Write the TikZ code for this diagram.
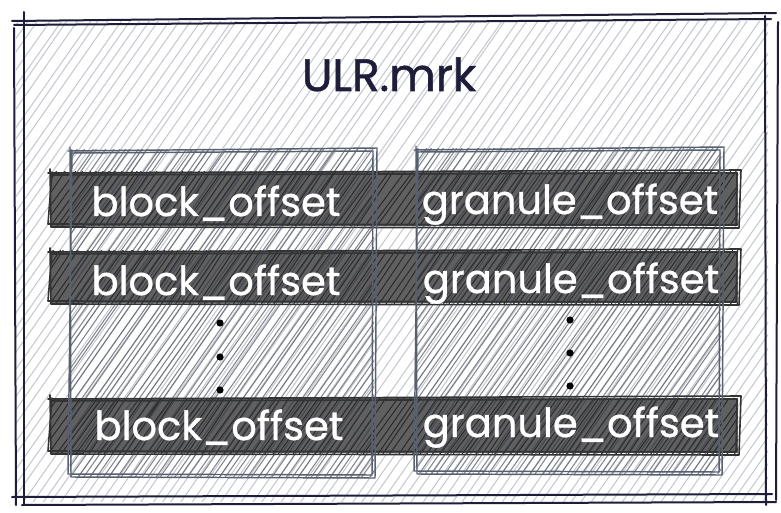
\documentclass[tikz,border=0pt]{standalone}
\usepackage{fontspec}
\setmainfont{Poppins}
\usetikzlibrary{positioning}

\definecolor{ink}{RGB}{30,30,58}
\definecolor{paperhatch}{RGB}{198,202,208}
\definecolor{colline}{RGB}{88,96,112}
\definecolor{colhatch}{RGB}{50,56,70}
\definecolor{barfill}{RGB}{96,96,96}
\definecolor{barhatch}{RGB}{40,40,40}

\tikzset{
  sketch/.style={line cap=round, line join=round},
  outer/.style={sketch, draw=ink, line width=1.5pt},
  column/.style={sketch, draw=colline, line width=1.1pt},
  barline/.style={sketch, draw=black!80, line width=1.2pt},
  paperlines/.style={draw=paperhatch, line width=.8pt},
  collines/.style={draw=colhatch, draw opacity=.6, line width=.8pt},
  barlines/.style={draw=barhatch, line width=.7pt},
  label/.style={text=white, font=\fontsize{30}{30}\selectfont\addfontfeature{FakeBold=.8}, inner sep=0pt, anchor=base},
  title/.style={text=ink, font=\fontsize{34}{34}\selectfont\addfontfeature{FakeBold=1.2}, inner sep=0pt, anchor=base},
}

% hand drawn fill: #1,#2 top left, #3,#4 bottom right, #5 gap, #6 line style
\newcommand\hachure[6]{%
  \begin{scope}
    \clip (#1,#2) rectangle (#3,#4);
    \pgfmathtruncatemacro\nlines{((#3-#1)+0.7*(#4-#2))/#5+2}
    \foreach \i in {0,...,\nlines}{
      \draw[#6] ({#1-0.7*(#4-#2)+\i*#5+rand*1.5},{#4+3}) -- ++({0.7*(#4-#2+6)+rand*3},{-(#4-#2+6)});
    }
  \end{scope}}

% rough outline, every box drawn twice
\newcommand\roughbox[5]{%
  \draw[#1] (#2-2,#3+1) -- (#4+3,#3-2) -- (#4+1,#5+2) -- (#2+1,#5+1) -- (#2,#3-3);
  \draw[#1] (#2+2,#3+3) -- (#4-1,#3+1) -- (#4-2,#5-1) -- (#2-2,#5-2) -- (#2+2,#3);}

\begin{document}
\begin{tikzpicture}[x=.75pt,y=-.75pt]
  \fill[white] (0,0) rectangle (781,513);
  \useasboundingbox (0,0) rectangle (781,513);

  % the file
  \hachure{16}{22}{768}{501}{10}{paperlines}
  \draw[outer] (12,21) -- (776,13);
  \draw[outer] (14,25) -- (771,19);
  \draw[outer] (24,12) -- (24,504);
  \draw[outer] (14,28) -- (16,505);
  \draw[outer] (765,16) -- (766,505);
  \draw[outer] (778,22) -- (776,500);
  \draw[outer] (12,497) -- (772,494);
  \draw[outer] (22,505) -- (776,502);
  \node[title] (name) at (389,91) {ULR.mrk};

  % marks
  \foreach \top/\bot in {172/226,251/303,398/453}{
    \fill[barfill] (50,\top) rectangle (738,\bot);
    \hachure{50}{\top}{738}{\bot}{7}{barlines}
    \roughbox{barline}{50}{\top}{738}{\bot}
  }

  % the two columns
  \hachure{70}{150}{374}{476}{6.5}{collines}
  \hachure{416}{149}{721}{473}{6.5}{collines}
  \roughbox{column}{70}{150}{374}{476}
  \roughbox{column}{416}{149}{721}{473}

  \node[label] (blk1) at (216,216) {block\_offset};
  \node[label] (blk2) at (216,295) {block\_offset};
  \node[label] (blk3) at (219,440) {block\_offset};
  \node[label] (gran1) at (570,214) {granule\_offset};
  \node[label] (gran2) at (571,293) {granule\_offset};
  \node[label] (gran3) at (571,437) {granule\_offset};

  \foreach \y in {323,357,390} \fill (220,\y) circle (3.6);
  \foreach \y in {320,353,386} \fill (570,\y) circle (3.6);
\end{tikzpicture}
\end{document}
